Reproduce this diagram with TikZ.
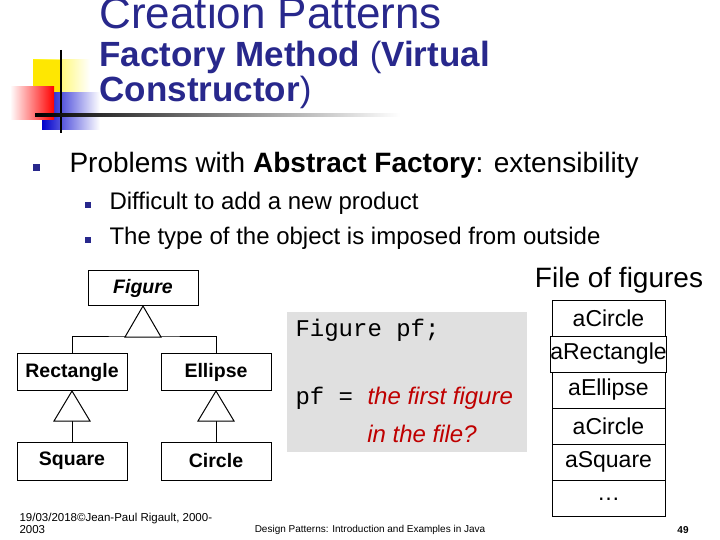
\documentclass[tikz,border=0pt]{standalone}
\usepackage{fontspec}
\setmainfont{Liberation Sans}
\setmonofont{Liberation Mono}
\begin{document}
\begin{tikzpicture}[x=1pt,y=-1pt,
  cls/.style={draw,line width=1pt,minimum width=110pt,minimum height=36pt,inner sep=0pt,font=\fontsize{19.5}{22}\selectfont\bfseries},
  tri/.style={draw,line width=1pt,fill=white},
  lnk/.style={line width=1pt},
  row/.style={draw,line width=1pt,minimum width=113pt,minimum height=36pt,inner sep=0pt,font=\fontsize{23}{26}\selectfont},
  bul/.style={fill=titleblue,minimum size=7pt,inner sep=0pt}]
\definecolor{titleblue}{RGB}{40,40,140}
\useasboundingbox (0,0) rectangle (720,540);
% logo
\shade[left color=yellow!90!orange,right color=white] (33,60) rectangle (90,92);
\fill[yellow!90!orange] (33,60) rectangle (60,92);
\shade[left color=blue!80!black,right color=white] (42,93) rectangle (100,130);
\shade[left color=white,right color=red] (10,87) rectangle (54,120);
\draw[line width=2pt] (61,50) -- (61,133);
\shade[left color=black,right color=white] (35,114) rectangle (400,117);
\node[anchor=west,text=titleblue,font=\fontsize{44}{46}\selectfont] (t1) at (96,13) {Creation Patterns};
\node[anchor=west,text=titleblue,font=\fontsize{35}{35}\selectfont\bfseries,align=left] (t2) at (96,75) {Factory Method {\mdseries(}Virtual\\Constructor{\mdseries)}};
% bullets
\node[bul] (b1) at (36,168) {};
\node[anchor=west,font=\fontsize{28}{30}\selectfont] (l1) at (66,165) {Problems with \textbf{Abstract Factory}: extensibility};
\node[bul,minimum size=6pt] (b2) at (88,205) {};
\node[anchor=west,font=\fontsize{24}{26}\selectfont] (l2) at (106,203) {Difficult to add a new product};
\node[bul,minimum size=6pt] (b3) at (88,240) {};
\node[anchor=west,font=\fontsize{24}{26}\selectfont] (l3) at (106,238) {The type of the object is imposed from outside};
% hierarchy
\node[cls,font=\fontsize{19.5}{22}\selectfont\bfseries\itshape,minimum height=35pt] (fig) at (143,288) {Figure};
\node[cls,minimum height=37pt] (rect) at (72,372) {Rectangle};
\node[cls,minimum height=37pt] (ell) at (216,372) {Ellipse};
\node[cls,minimum height=38pt] (sq) at (72,461) {Square};
\node[cls,minimum height=38pt] (cir) at (216,461) {Circle};
\coordinate (j) at (144,336);
\draw[lnk] (rect.north) |- (j) -| (ell.north);
\draw[tri] (fig.south) -- ++(18,31) -- ++(-36,0) -- cycle;
\draw[lnk] (sq.north) -- ++(0,-22);
\draw[tri] (rect.south) -- ++(18,30) -- ++(-36,0) -- cycle;
\draw[lnk] (cir.north) -- ++(0,-22);
\draw[tri] (ell.south) -- ++(18,30) -- ++(-36,0) -- cycle;
% code box
\fill[black!12] (287,312) rectangle (527,452);
\node[anchor=west,font=\ttfamily\fontsize{24}{26}\selectfont] (c1) at (292,330) {Figure pf;};
\node[anchor=west,font=\ttfamily\fontsize{24}{26}\selectfont] (c2) at (292,398) {pf = {\rmfamily\itshape\color{red!75!black}the first figure}};
\node[font=\fontsize{24}{26}\selectfont\itshape,text=red!75!black] (c3) at (422,434) {in the file?};
% file
\node[font=\fontsize{28}{30}\selectfont] (ft) at (619,280) {File of figures};
\node[row] (r1) at (608.5,318) {aCircle};
\node[row] (r2) at (608.5,354) {aRectangle};
\node[row] (r3) at (608.5,390) {aEllipse};
\node[row] (r4) at (608.5,426) {aCircle};
\node[row] (r5) at (608.5,462) {aSquare};
\node[row] (r6) at (608.5,498) {\raisebox{-4pt}{\dots}};
% footer
\node[anchor=west,font=\fontsize{11.5}{12}\selectfont,align=left] (f1) at (16,523) {19/03/2018©Jean-Paul Rigault, 2000-\\2003};
\node[font=\fontsize{10}{11}\selectfont] (f2) at (370,530) {Design Patterns: Introduction and Examples in Java};
\node[font=\fontsize{10}{11}\selectfont\bfseries] (f3) at (683,530) {49};
\end{tikzpicture}
\end{document}
